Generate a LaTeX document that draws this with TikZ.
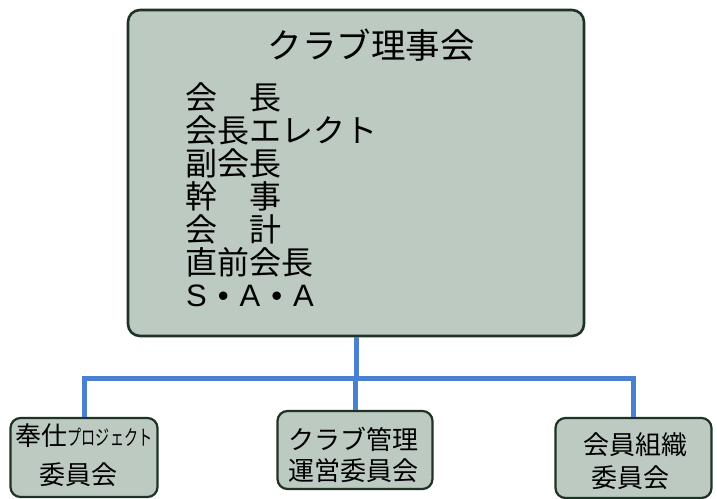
\documentclass[tikz,border=0pt]{standalone}
\usepackage{fontspec}
\setmainfont{Noto Sans CJK JP}
\newfontfamily\latinsans{Liberation Sans}
\usetikzlibrary{positioning}
\definecolor{boxfill}{HTML}{BCCAC1}
\definecolor{boxline}{HTML}{1E3324}
\definecolor{conncol}{HTML}{4A80D2}
\tikzset{
  mainbox/.style={draw=boxline, line width=2.6bp, fill=boxfill, rounded corners=12bp, inner sep=0pt},
  subbox/.style={draw=boxline, line width=2.2bp, fill=boxfill, rounded corners=10bp, inner sep=0pt},
  conn/.style={draw=conncol, line width=5bp},
  titletext/.style={font=\fontsize{34.5bp}{36bp}\selectfont, inner sep=0pt},
  listtext/.style={font=\fontsize{32bp}{34bp}\selectfont, inner sep=0pt, anchor=west},
  subtext/.style={font=\fontsize{26bp}{28bp}\selectfont, inner sep=0pt},
}
\begin{document}
\begin{tikzpicture}[x=1bp,y=-1bp]
\useasboundingbox (0,0) rectangle (717,499);
\fill[white] (0,0) rectangle (717,499);
% main box
\node[mainbox, minimum width=456bp, minimum height=326bp] (main) at (356,173) {};
\node[titletext] (title) at (371,45) {クラブ理事会};
\node[listtext] (l1) at (185,97) {会　長};
\node[listtext] (l2) at (185,130) {会長エレクト};
\node[listtext] (l3) at (185,163) {副会長};
\node[listtext] (l4) at (185,196) {幹　事};
\node[listtext] (l5) at (185,229) {会　計};
\node[listtext] (l6) at (185,262) {直前会長};
\node[listtext] (l7) at (186,296) {\latinsans\fontsize{31bp}{33bp}\selectfont S\hspace{11bp}•\hspace{11bp}A\hspace{11bp}•\hspace{11bp}A};
% sub boxes
\node[subbox, minimum width=147bp, minimum height=79bp] (left) at (84,457.5) {};
\node[subbox, minimum width=155bp, minimum height=78bp] (mid) at (355,450) {};
\node[subbox, minimum width=156bp, minimum height=80bp] (right) at (633.5,458) {};
\node[subtext] (lt1) at (84,436) {奉仕{\fontsize{21bp}{22bp}\selectfont\scalebox{0.67}[1]{プロジェクト}}};
\node[subtext] (lt2) at (78,475) {委員会};
\node[subtext] (mt1) at (353,439) {クラブ管理};
\node[subtext] (mt2) at (353,471) {運営委員会};
\node[subtext] (rt1) at (635,445) {会員組織};
\node[subtext] (rt2) at (630,478) {委員会};
% connectors
\coordinate (bus) at (0,378);
\draw[conn] (main.south) -- (main.south |- bus);
\draw[conn] (left.north) -- (left.north |- bus) -- (right.north |- bus) -- (right.north);
\draw[conn] (mid.north) -- (mid.north |- bus);
\end{tikzpicture}
\end{document}
